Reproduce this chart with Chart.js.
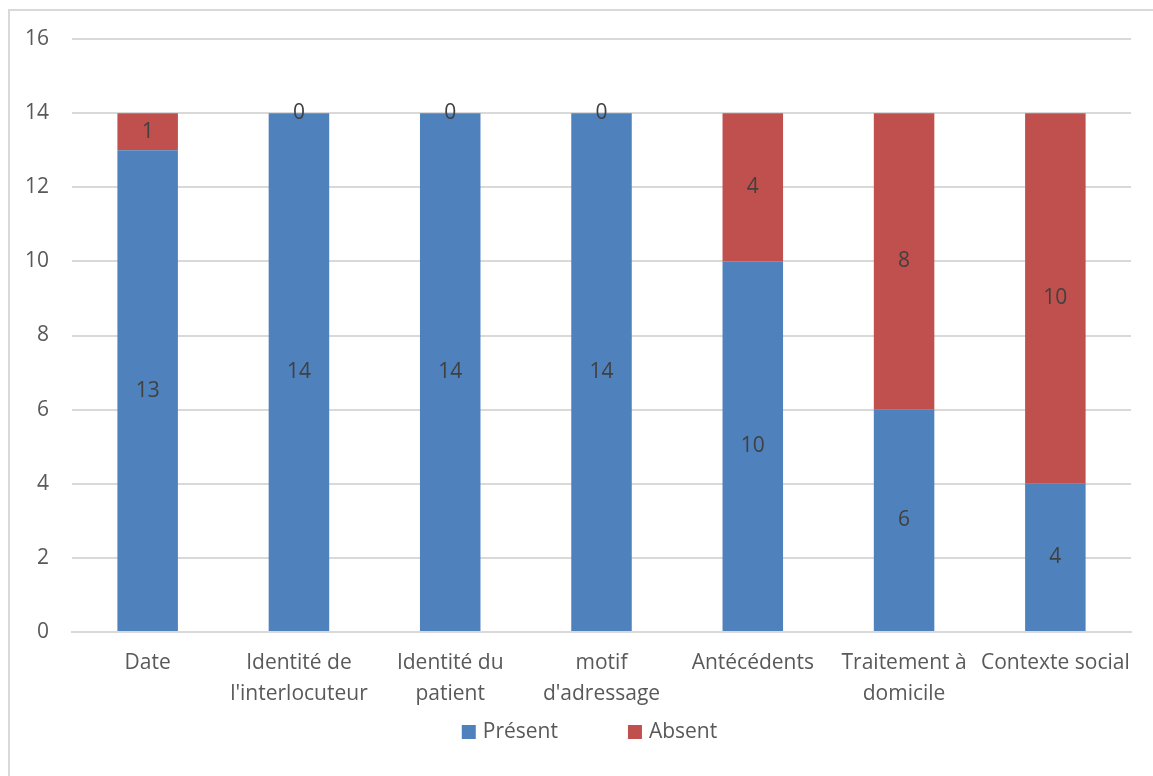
<!DOCTYPE html>
<html>
<head>
<meta charset="utf-8">
<script src="https://cdn.jsdelivr.net/npm/chart.js@4.4.0/dist/chart.umd.min.js"></script>
<style>
  body { margin: 0; background: #ffffff; }
  #frame { position: absolute; left: 8px; top: 9px; width: 1160px; height: 780px; border: 2px solid #d9d9d9; box-sizing: border-box; }
  #wrap { position: absolute; left: 0; top: 0; width: 1153px; height: 776px; }
</style>
</head>
<body>
<div id="frame"></div>
<div id="wrap"><canvas id="myChart"></canvas></div>
<script>
var Categories = [['Date'], ['Identité de', "l'interlocuteur"], ['Identité du', 'patient'], ['motif', "d'adressage"], ['Antécédents'], ['Traitement à', 'domicile'], ['Contexte social']]
var Present = [13, 14, 14, 14, 10, 6, 4]
var Absent = [1, 0, 0, 0, 4, 8, 10]
var YTicks = [0, 2, 4, 6, 8, 10, 12, 14, 16]

var FontName = "'Open Sans', 'Noto Sans', sans-serif"
var TextColor = '#595959'

// labels au centre de chaque segment
var SegmentLabels = {
    id: 'SegmentLabels',
    afterDatasetsDraw: chart => {
        var ctx = chart.ctx
        ctx.save()
        ctx.font = '21px ' + FontName
        ctx.fillStyle = '#404040'
        ctx.textAlign = 'center'
        ctx.textBaseline = 'middle'
        chart.data.datasets.forEach(function (ds, i) {
            var meta = chart.getDatasetMeta(i)
            meta.data.forEach(function (bar, j) {
                var mid = (bar.y + bar.base) / 2
                ctx.fillText(ds.data[j].toString(), bar.x, mid)
            })
        })
        ctx.restore()
    }
}

// legende en bas (ecart large entre les items comme dans Excel)
var BottomLegend = {
    id: 'BottomLegend',
    afterDraw: chart => {
        var ctx = chart.ctx
        ctx.save()
        ctx.font = '21px ' + FontName
        ctx.textBaseline = 'middle'
        var box = 14, gapText = 7, gapItem = 70
        var items = chart.data.datasets.map(ds => ({ text: ds.label, color: ds.backgroundColor, w: ctx.measureText(ds.label).width }))
        var total = 0
        items.forEach((it, i) => { total += box + gapText + it.w + (i < items.length - 1 ? gapItem : 0) })
        var x = chart.width / 2 + 13 - total / 2
        var y = chart.scales.x.bottom + 7
        items.forEach(it => {
            ctx.fillStyle = it.color
            ctx.fillRect(x, y - box / 2, box, box)
            ctx.fillStyle = TextColor
            ctx.fillText(it.text, x + box + gapText, y)
            x += box + gapText + it.w + gapItem
        })
        ctx.restore()
    }
}

var config_Bar = {
    type: 'bar',
    data: {
        labels: Categories,
        datasets: [
            { label: 'Présent', data: Present, backgroundColor: '#4f81bd', borderWidth: 0, barPercentage: 0.4, categoryPercentage: 1 },
            { label: 'Absent', data: Absent, backgroundColor: '#c0504d', borderWidth: 0, barPercentage: 0.4, categoryPercentage: 1 }
        ]
    },
    plugins: [SegmentLabels, BottomLegend],
    options: {
        responsive: true,
        maintainAspectRatio: false,
        animation: false,
        layout: { padding: { left: 2, right: 22, top: 39, bottom: 51 } },
        plugins: {
            legend: { display: false },
            tooltip: { enabled: false }
        },
        scales: {
            x: {
                stacked: true,
                grid: { display: false, drawTicks: false },
                border: { color: '#d9d9d9', width: 2 },
                ticks: { color: TextColor, font: { size: 21, family: FontName, lineHeight: 1.5 }, padding: 15, maxRotation: 0, autoSkip: false }
            },
            y: {
                stacked: true,
                min: 0, max: 16,
                afterBuildTicks: axis => { axis.ticks = YTicks.map(v => ({ value: v })) },
                grid: { color: '#d9d9d9', lineWidth: 2, drawTicks: false },
                border: { display: false },
                ticks: { color: TextColor, font: { size: 21, family: FontName }, padding: 23 }
            }
        }
    }
}

var ChartElement = document.getElementById('myChart').getContext('2d')
var MyChart = new Chart(ChartElement, config_Bar)
</script>
</body>
</html>
